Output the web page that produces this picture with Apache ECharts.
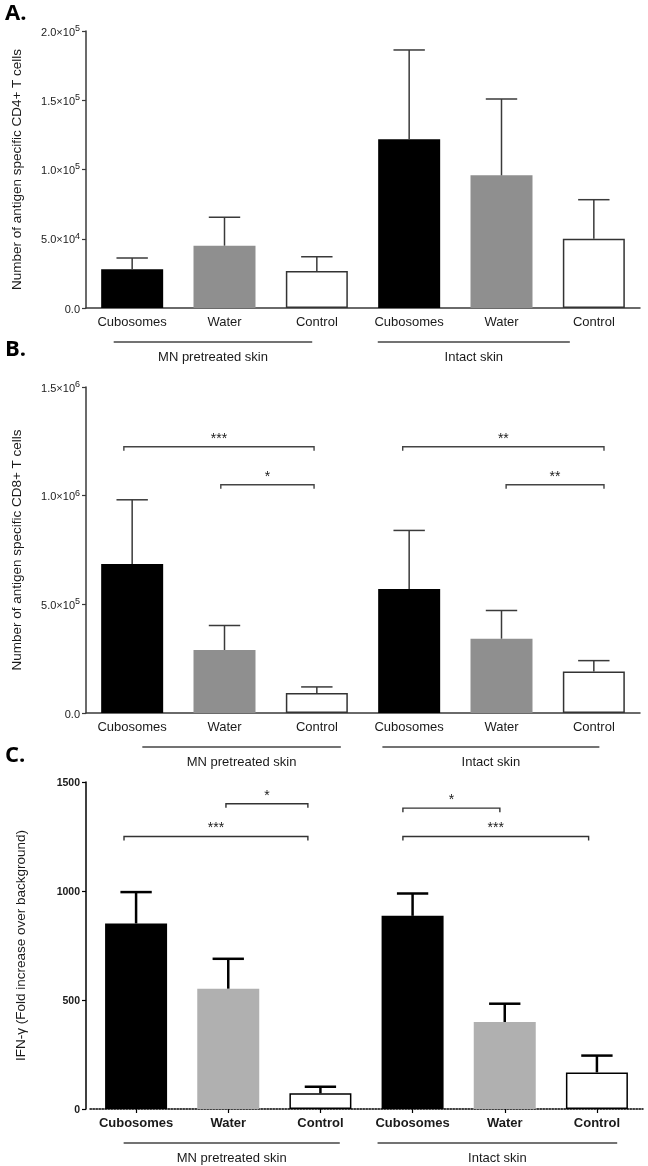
<!DOCTYPE html>
<html><head><meta charset="utf-8">
<script src="https://cdn.jsdelivr.net/npm/echarts@6/dist/echarts.min.js"></script>
<style>html,body{margin:0;padding:0;background:#fff}#c{width:648px;height:1166px}</style>
</head><body><div id="c"></div>
<script>
// ---------- DATA ----------
const categories = ['Cubosomes', 'Water', 'Control', 'Cubosomes', 'Water', 'Control'];
const groupNames = ['MN pretreated skin', 'Intact skin'];

const cd4Mean = [28000, 45000, 26700, 121800, 95800, 50000];
const cd4Sd   = [8100, 20500, 10300, 64500, 55100, 28200];
const cd4Ticks = ['0.0', '5.0×10^4', '1.0×10^5', '1.5×10^5', '2.0×10^5'];

const cd8Mean = [686000, 290000, 92000, 570000, 342000, 191000];
const cd8Sd   = [295000, 113000, 28000, 270000, 130000, 50000];
const cd8Ticks = ['0.0', '5.0×10^5', '1.0×10^6', '1.5×10^6'];

const ifnMean = [851, 552, 72, 886, 399, 168];
const ifnSd   = [144, 137, 30, 102, 84, 77];
const ifnTicks = ['0', '500', '1000', '1500'];

// significance brackets: [from, to (category band units from axis start), y value, label]
const cd8Brackets = [[0.41, 2.47, 1225000, '***'], [1.46, 2.47, 1050000, '*'],
                     [3.43, 5.61, 1225000, '**'], [4.55, 5.61, 1050000, '**']];
const ifnBrackets = [[1.475, 2.364, 1400, '*'], [0.369, 2.364, 1250, '***'],
                     [3.395, 4.447, 1380, '*'], [3.395, 5.41, 1250, '***']];

// ---------- STYLE ----------
const FONT = '"Liberation Sans", Arial, sans-serif';
const panels = [
  { title: 'Number of antigen specific CD4+ T cells', mean: cd4Mean, sd: cd4Sd, ticks: cd4Ticks,
    max: 200000, interval: 50000, brackets: [], letter: 'A.', letterY: 14,
    grid: { left: 86, right: 8, top: 31, height: 277, outerBoundsMode: 'none', containLabel: false },
    fills: ['#000000', '#8f8f8f', '#ffffff'], axisColor: '#3a3a3a', errColor: '#3a3a3a', errWidth: 1.5,
    bold: false, groups: [[0.30, 2.45], [3.16, 5.24]], yOffset: 0 },
  { title: 'Number of antigen specific CD8+ T cells', mean: cd8Mean, sd: cd8Sd, ticks: cd8Ticks,
    max: 1500000, interval: 500000, brackets: cd8Brackets, letter: 'B.', letterY: 350,
    grid: { left: 86, right: 8, top: 387, height: 326, outerBoundsMode: 'none', containLabel: false },
    fills: ['#000000', '#8f8f8f', '#ffffff'], axisColor: '#3a3a3a', errColor: '#3a3a3a', errWidth: 1.5,
    bold: false, groups: [[0.61, 2.76], [3.21, 5.56]], yOffset: 0 },
  { title: 'IFN-γ (Fold increase over background)', mean: ifnMean, sd: ifnSd, ticks: ifnTicks,
    max: 1500, interval: 500, brackets: ifnBrackets, letter: 'C.', letterY: 756,
    grid: { left: 90, right: 5, top: 782, height: 327, outerBoundsMode: 'none', containLabel: false },
    fills: ['#000000', '#b0b0b0', '#ffffff'], axisColor: '#000000', errColor: '#000000', errWidth: 2.5,
    bold: true, groups: [[0.365, 2.71], [3.12, 5.72]], yOffset: 4 }
];

function tickRich(s) {
  const parts = s.split('^');
  return parts.length > 1 ? '{m|' + parts[0] + '}{s|' + parts[1] + '}' : '{m|' + parts[0] + '}';
}

const grids = [], xAxes = [], yAxes = [], series = [];
panels.forEach((p, k) => {
  grids.push(p.grid);
  xAxes.push({
    type: 'category', gridIndex: k, data: categories.map((_, i) => i),
    axisLine: { lineStyle: { color: p.axisColor, width: 1.5, type: p.bold ? 'dotted' : 'solid' } },
    axisTick: { show: p.bold, alignWithLabel: true, length: 4, lineStyle: { color: '#000', width: 1.2 } },
    axisLabel: { interval: 0, margin: 8, fontFamily: FONT, fontSize: 13, color: '#1a1a1a',
                 fontWeight: p.bold ? 'bold' : 'normal', formatter: (v) => categories[+v] },
    splitLine: { show: false }
  });
  yAxes.push({
    type: 'value', gridIndex: k, min: 0, max: p.max, interval: p.interval, offset: p.yOffset,
    name: p.title, nameLocation: 'middle', nameGap: 62 - p.yOffset, nameRotate: 90,
    nameTextStyle: { fontFamily: FONT, fontSize: 13.5, color: '#1a1a1a' },
    axisLine: { show: true, lineStyle: { color: p.axisColor, width: 1.5 } },
    axisTick: { show: true, length: 4, lineStyle: { color: p.axisColor, width: 1.2 } },
    splitLine: { show: false },
    axisLabel: {
      margin: 6, formatter: (v, idx) => tickRich(p.ticks[idx]),
      rich: {
        m: { fontFamily: FONT, fontSize: p.bold ? 10.5 : 11, fontWeight: p.bold ? 'bold' : 'normal',
             color: '#1a1a1a', lineHeight: 14, verticalAlign: 'bottom' },
        s: { fontFamily: FONT, fontSize: 9, color: '#1a1a1a', lineHeight: 9, verticalAlign: 'top' }
      }
    }
  });
  series.push({
    type: 'bar', xAxisIndex: k, yAxisIndex: k, barWidth: 62, z: 2,
    data: p.mean.map((v, i) => ({
      value: v,
      itemStyle: { color: p.fills[i % 3], borderColor: i % 3 === 2 ? (p.bold ? '#000' : '#333') : p.fills[i % 3],
                   borderWidth: i % 3 === 2 ? 1.5 : 0 }
    }))
  });
  series.push({
    type: 'custom', xAxisIndex: k, yAxisIndex: k, z: 3, silent: true,
    data: p.mean.map((v, i) => [i, v, p.sd[i]]),
    encode: { x: 0, y: 1 },
    renderItem: (params, api) => {
      const i = api.value(0), m = api.value(1), s = api.value(2);
      const p0 = api.coord([i, m]), p1 = api.coord([i, m + s]);
      const hw = api.size([1, 0])[0] * 0.17;
      const st = { stroke: p.errColor, lineWidth: p.errWidth };
      return { type: 'group', children: [
        { type: 'line', shape: { x1: p0[0], y1: p0[1], x2: p1[0], y2: p1[1] }, style: st },
        { type: 'line', shape: { x1: p1[0] - hw, y1: p1[1], x2: p1[0] + hw, y2: p1[1] }, style: st }
      ] };
    }
  });
  if (p.brackets.length) {
    series.push({
      type: 'custom', xAxisIndex: k, yAxisIndex: k, z: 4, silent: true, clip: false,
      data: p.brackets.map((b, j) => [0, b[2]]),
      encode: { x: 0, y: 1 },
      renderItem: (params, api) => {
        const b = p.brackets[params.dataIndex];
        const band = api.size([1, 0])[0];
        const start = api.coord([0, 0])[0] - band / 2;
        const y = api.coord([0, b[2]])[1];
        const x1 = start + b[0] * band, x2 = start + b[1] * band;
        const st = { stroke: p.bold ? '#333' : '#444', lineWidth: 1.4, fill: null };
        return { type: 'group', children: [
          { type: 'polyline', shape: { points: [[x1, y + 4], [x1, y], [x2, y], [x2, y + 4]] }, style: st },
          { type: 'text', x: (x1 + x2) / 2, y: y - 8,
            style: { text: b[3], font: '14px ' + FONT, fill: '#1a1a1a', textAlign: 'center', textVerticalAlign: 'middle' } }
        ] };
      }
    });
  }
});

const chart = echarts.init(document.getElementById('c'), null, { renderer: 'canvas' });
chart.setOption({
  animation: false, backgroundColor: '#fff',
  grid: grids, xAxis: xAxes, yAxis: yAxes, series: series
});

// group annotations under each x axis and panel letters
const els = [];
panels.forEach((p, k) => {
  const c0 = chart.convertToPixel({ xAxisIndex: k }, 0);
  const c1 = chart.convertToPixel({ xAxisIndex: k }, 1);
  const band = c1 - c0, start = c0 - band / 2;
  const y0 = chart.convertToPixel({ yAxisIndex: k }, 0);
  p.groups.forEach((g, j) => {
    const x1 = start + g[0] * band, x2 = start + g[1] * band;
    els.push({ type: 'line', shape: { x1: x1, y1: y0 + 34, x2: x2, y2: y0 + 34 },
               style: { stroke: '#444', lineWidth: 1.5 } });
    els.push({ type: 'text', x: (x1 + x2) / 2, y: y0 + 49,
               style: { text: groupNames[j], font: '13px ' + FONT, fill: '#1a1a1a',
                        textAlign: 'center', textVerticalAlign: 'middle' } });
  });
  els.push({ type: 'text', x: 5, y: p.letterY,
             style: { text: p.letter, font: 'bold 22px "Open Sans", "DejaVu Sans", sans-serif', fill: '#000',
                      textAlign: 'left', textVerticalAlign: 'middle' } });
});
chart.setOption({ graphic: els });
</script>
</body></html>
